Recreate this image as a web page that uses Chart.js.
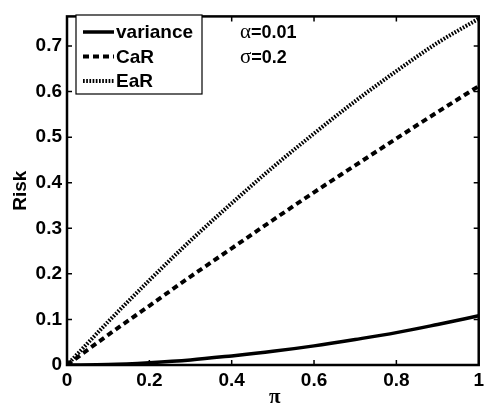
<!DOCTYPE html>
<html>
<head>
<meta charset="utf-8">
<script src="https://cdn.jsdelivr.net/npm/chart.js@4/dist/chart.umd.min.js"></script>
<style>
  html, body { margin: 0; padding: 0; background: #fff; }
  canvas { display: block; }
</style>
</head>
<body>
<canvas id="risk" width="488" height="410"></canvas>
<script>
// Share of wealth in the risky asset
const piValues = [0, 0.1, 0.2, 0.3, 0.4, 0.5, 0.6, 0.7, 0.8, 0.9, 1.0];
// Risk measures
const varianceRisk = [0, 0.001, 0.005, 0.011, 0.020, 0.030, 0.042, 0.056, 0.071, 0.089, 0.108];
const carRisk      = [0, 0.066, 0.130, 0.194, 0.256, 0.318, 0.379, 0.438, 0.497, 0.555, 0.612];
const earRisk      = [0, 0.095, 0.186, 0.273, 0.355, 0.434, 0.508, 0.579, 0.645, 0.707, 0.760];
// Axis ticks
const xTicks = [0, 0.2, 0.4, 0.6, 0.8, 1];
const yTicks = [0, 0.1, 0.2, 0.3, 0.4, 0.5, 0.6, 0.7];
const xTickLabels = ['0', '0.2', '0.4', '0.6', '0.8', '1'];
const yTickLabels = ['0', '0.1', '0.2', '0.3', '0.4', '0.5', '0.6', '0.7'];
const seriesNames = ['variance', 'CaR', 'EaR'];
const params = [['\u03b1', '=0.01'], ['\u03c3', '=0.2']];

const SANS = '"Liberation Sans", Arial, Helvetica, sans-serif';
const SERIF = '"Liberation Serif", "Times New Roman", serif';

const points = arr => piValues.map((x, i) => ({ x: x, y: arr[i] }));

const styles = [
  { borderWidth: 3.5, borderDash: [] },
  { borderWidth: 4, borderDash: [6, 4] },
  { borderWidth: 4, borderDash: [1.7, 1.5] }
];

const datasets = [varianceRisk, carRisk, earRisk].map((arr, i) => ({
  label: seriesNames[i],
  data: points(arr),
  borderColor: '#000',
  backgroundColor: '#000',
  borderWidth: styles[i].borderWidth,
  borderDash: styles[i].borderDash,
  borderCapStyle: 'butt',
  pointRadius: 0,
  cubicInterpolationMode: 'monotone',
  fill: false
}));

// Box frame, inward ticks, legend, parameter notes and axis titles
const decorations = {
  id: 'decorations',
  afterDraw(chart) {
    const ctx = chart.ctx;
    const a = chart.chartArea;
    const xs = chart.scales.x, ys = chart.scales.y;
    ctx.save();
    ctx.strokeStyle = '#000';
    ctx.fillStyle = '#000';
    ctx.setLineDash([]);

    // frame
    ctx.lineWidth = 2.5;
    ctx.strokeRect(a.left, a.top, a.right - a.left, a.bottom - a.top);

    // inward tick marks on all four sides
    const tl = 5;
    ctx.lineWidth = 1.5;
    ctx.beginPath();
    xTicks.forEach(v => {
      const px = xs.getPixelForValue(v);
      ctx.moveTo(px, a.bottom); ctx.lineTo(px, a.bottom - tl);
      ctx.moveTo(px, a.top); ctx.lineTo(px, a.top + tl);
    });
    yTicks.forEach(v => {
      const py = ys.getPixelForValue(v);
      ctx.moveTo(a.left, py); ctx.lineTo(a.left + tl, py);
      ctx.moveTo(a.right, py); ctx.lineTo(a.right - tl, py);
    });
    ctx.stroke();

    // legend box
    const lg = { x: 76, y: 15, w: 126, h: 79 };
    ctx.fillStyle = '#fff';
    ctx.fillRect(lg.x, lg.y, lg.w, lg.h);
    ctx.lineWidth = 1.2;
    ctx.strokeRect(lg.x, lg.y, lg.w, lg.h);
    ctx.fillStyle = '#000';
    ctx.font = 'bold 19px ' + SANS;
    ctx.textBaseline = 'middle';
    ctx.textAlign = 'left';
    chart.data.datasets.forEach((ds, i) => {
      const cy = 32 + i * 24.5;
      ctx.beginPath();
      ctx.lineWidth = ds.borderWidth;
      ctx.lineCap = 'butt';
      ctx.setLineDash(ds.borderDash);
      ctx.moveTo(83, cy);
      ctx.lineTo(114, cy);
      ctx.stroke();
      ctx.setLineDash([]);
      ctx.fillText(ds.label, 116, cy + 1);
    });

    // parameter notes
    params.forEach((p, i) => {
      const cy = 32 + i * 25;
      ctx.font = '21px ' + SERIF;
      ctx.fillText(p[0], 240, cy);
      const w = ctx.measureText(p[0]).width;
      ctx.font = 'bold 18px ' + SANS;
      ctx.fillText(p[1], 240 + w, cy + 1);
    });

    // y title
    ctx.save();
    ctx.translate(21, (a.top + a.bottom) / 2);
    ctx.rotate(-Math.PI / 2);
    ctx.textAlign = 'center';
    ctx.textBaseline = 'middle';
    ctx.font = 'bold 19px ' + SANS;
    ctx.fillText('Risk', 0, 0);
    ctx.restore();

    // x title
    ctx.textAlign = 'center';
    ctx.textBaseline = 'alphabetic';
    ctx.font = 'bold 21px ' + SERIF;
    ctx.fillText('\u03c0', (a.left + a.right) / 2 + 2, 403);

    ctx.restore();
  }
};

new Chart(document.getElementById('risk'), {
  type: 'line',
  data: { datasets: datasets },
  options: {
    responsive: false,
    animation: false,
    events: [],
    layout: { padding: { top: 8, right: 1, left: 0, bottom: 0 } },
    plugins: { legend: { display: false }, tooltip: { enabled: false } },
    scales: {
      x: {
        type: 'linear',
        min: 0,
        max: 1,
        grid: { display: false, drawTicks: false },
        border: { display: false },
        afterBuildTicks: s => { s.ticks = xTicks.map(v => ({ value: v })); },
        afterFit: s => { s.height = 45; },
        ticks: {
          padding: 4,
          color: '#000',
          maxRotation: 0,
          autoSkip: false,
          font: { family: SANS, size: 19, weight: 'bold' },
          callback: (v, i) => xTickLabels[i]
        }
      },
      y: {
        type: 'linear',
        min: 0,
        max: 0.765,
        grid: { display: false, drawTicks: false },
        border: { display: false },
        afterBuildTicks: s => { s.ticks = yTicks.map(v => ({ value: v })); },
        afterFit: s => { s.width = 67; },
        ticks: {
          padding: 5,
          color: '#000',
          autoSkip: false,
          font: { family: SANS, size: 19, weight: 'bold' },
          callback: (v, i) => yTickLabels[i]
        }
      }
    }
  },
  plugins: [decorations]
});
</script>
</body>
</html>
